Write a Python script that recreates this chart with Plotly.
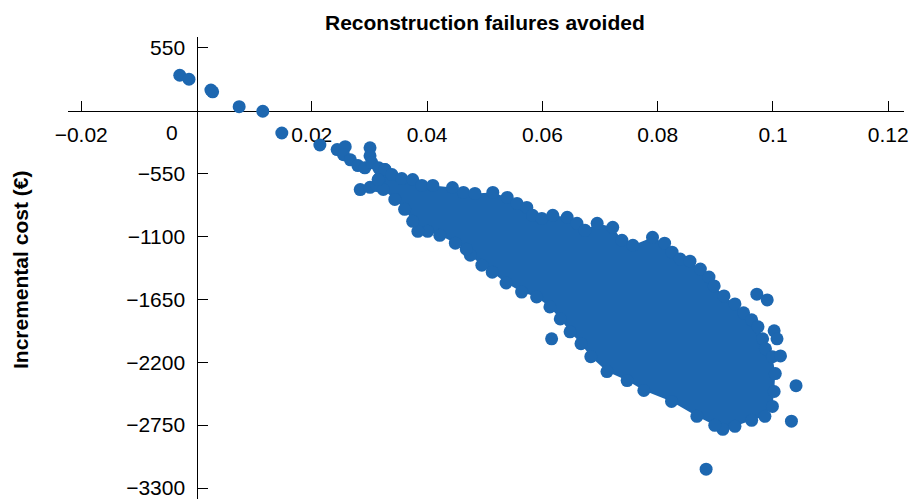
import plotly.graph_objects as go

# ---- data (x = reconstruction failures avoided, y = incremental cost in EUR)
lead_x = [-0.0029, -0.0013, 0.0025, 0.0028, 0.0074, 0.0115, 0.0148, 0.0214]
lead_y = [310, 275, 180, 165, 35, -5, -195, -300]

cluster_x = [0.0244, 0.0258, 0.0255, 0.0267, 0.0280, 0.0292, 0.0301, 0.0301, 0.0304,
             0.0316, 0.0284, 0.0301, 0.0313, 0.0318, 0.0327]
cluster_y = [-340, -315, -385, -430, -480, -500, -325, -395, -455,
             -500, -690, -670, -655, -585, -515]

outlier_x = [0.0616, 0.0884, 0.1040, 0.1032, 0.0972, 0.0990, 0.1002, 0.1007, 0.1013]
outlier_y = [-1995, -3135, -2405, -2715, -1605, -1655, -1925, -1995, -2145]

# outer ring of the dense simulation cloud (points along its edge, in order)
edge_x = [0.0327, 0.0339, 0.0356, 0.0375, 0.0391, 0.0410, 0.0444, 0.0463, 0.0483, 0.0514,
          0.0539, 0.0556, 0.0573, 0.0583, 0.0599, 0.0618, 0.0643, 0.0660, 0.0674, 0.0695,
          0.0722, 0.0738, 0.0757, 0.0791, 0.0812, 0.0825, 0.0839, 0.0856, 0.0874, 0.0889,
          0.0898, 0.0915, 0.0934, 0.0949, 0.0963, 0.0974, 0.0982, 0.0987, 0.0999, 0.1004,
          0.1002, 0.0999, 0.0986, 0.0963, 0.0934, 0.0913, 0.0899, 0.0868, 0.0824, 0.0776,
          0.0747, 0.0712, 0.0684, 0.0667, 0.0648, 0.0631, 0.0613, 0.0590, 0.0564, 0.0537,
          0.0513, 0.0495, 0.0475, 0.0468, 0.0449, 0.0422, 0.0401, 0.0384, 0.0375, 0.0361,
          0.0344, 0.0324, 0.0315]
edge_y = [-515, -559, -594, -602, -654, -654, -672, -715, -724, -715,
          -759, -811, -846, -915, -942, -915, -933, -985, -1046, -985,
          -1020, -1133, -1177, -1107, -1159, -1237, -1298, -1316, -1385, -1455,
          -1533, -1620, -1690, -1768, -1829, -1890, -1995, -2082, -2151, -2299,
          -2456, -2586, -2673, -2708, -2760, -2787, -2752, -2673, -2543, -2447,
          -2360, -2282, -2151, -2038, -1934, -1821, -1716, -1629, -1586, -1507,
          -1412, -1351, -1264, -1211, -1159, -1090, -1055, -1055, -968, -863,
          -776, -689, -602]

x_ticks = [-0.02, 0.02, 0.04, 0.06, 0.08, 0.1, 0.12]
x_tick_text = ["\u22120.02", "0.02", "0.04", "0.06", "0.08", "0.1", "0.12"]
y_ticks = [550, -550, -1100, -1650, -2200, -2750, -3300]
y_tick_text = ["550", "\u2212550", "\u22121100", "\u22121650", "\u22122200", "\u22122750", "\u22123300"]

BLUE = "#1d67b0"
FONT = "Liberation Sans, Arial, Helvetica, sans-serif"
TICK_SIZE = 21

fig = go.Figure()

# dense cloud interior
fig.add_trace(go.Scatter(
    x=edge_x + edge_x[:1], y=edge_y + edge_y[:1], mode="lines",
    fill="toself", fillcolor=BLUE, line=dict(width=0, color=BLUE),
    hoverinfo="skip", showlegend=False))

all_x = lead_x + cluster_x + edge_x + outlier_x
all_y = lead_y + cluster_y + edge_y + outlier_y
fig.add_trace(go.Scatter(
    x=all_x, y=all_y, mode="markers",
    marker=dict(size=13, color=BLUE, line=dict(width=0)),
    cliponaxis=False, showlegend=False))

fig.update_layout(
    width=909, height=499,
    margin=dict(l=0, r=0, t=0, b=0),
    paper_bgcolor="white", plot_bgcolor="white",
    font=dict(family=FONT, size=TICK_SIZE, color="black"),
    xaxis=dict(
        domain=[68 / 909, 903.5 / 909], range=[-0.02229, 0.12264],
        anchor="free", position=1 - 110.7 / 499, layer="below traces",
        showline=True, linecolor="black", linewidth=1.3,
        ticks="inside", ticklen=10, tickwidth=1.3, tickcolor="black",
        tickvals=x_ticks, ticktext=x_tick_text, ticklabelstandoff=5,
        ticklabeloverflow="allow",
        showgrid=False, zeroline=False, automargin=False,
        tickfont=dict(family=FONT, size=TICK_SIZE, color="black"),
    ),
    yaxis=dict(
        domain=[0, 1 - 36.7 / 499], range=[-3396, 647],
        anchor="free", position=196.5 / 909,
        showline=True, linecolor="black", linewidth=1.3,
        ticks="inside", ticklen=10, tickwidth=1.3, tickcolor="black",
        tickvals=y_ticks, ticktext=y_tick_text, ticklabelstandoff=7,
        ticklabeloverflow="allow",
        showgrid=False, zeroline=False, automargin=False,
        tickfont=dict(family=FONT, size=TICK_SIZE, color="black"),
    ),
    annotations=[
        dict(text="<b>Reconstruction failures avoided</b>", xref="paper", yref="paper",
             x=485 / 909, y=1 - 22 / 499, xanchor="center", yanchor="middle",
             showarrow=False, font=dict(family=FONT, size=21, color="black")),
        dict(text="<b>Incremental cost (\u20ac)</b>", xref="paper", yref="paper",
             x=20 / 909, y=1 - 270 / 499, xanchor="center", yanchor="middle",
             showarrow=False, textangle=-90,
             font=dict(family=FONT, size=21, color="black")),
        dict(text="0", xref="paper", yref="paper",
             x=172 / 909, y=1 - 133 / 499, xanchor="center", yanchor="middle",
             showarrow=False, font=dict(family=FONT, size=TICK_SIZE, color="black")),
    ],
)

fig.write_html("out.html", config={"displayModeBar": False},
               post_script="document.body.style.margin='0';document.body.style.padding='0';")
